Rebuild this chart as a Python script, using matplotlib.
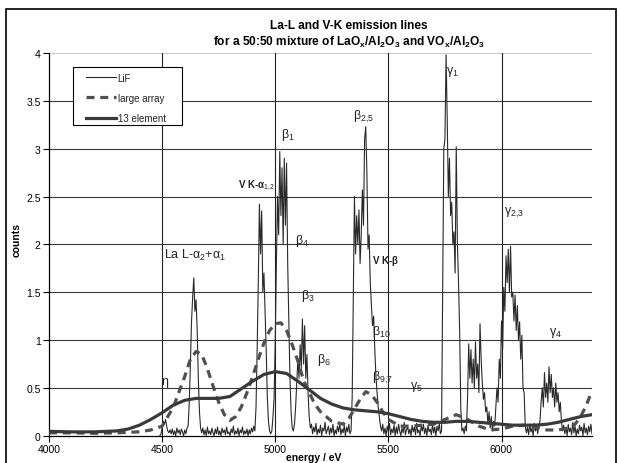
import numpy as np
import matplotlib
matplotlib.use("Agg")
import matplotlib.pyplot as plt
from matplotlib.patches import Rectangle
from matplotlib.ticker import FormatStrFormatter

plt.rcParams['font.family'] = ['Liberation Sans', 'DejaVu Sans']
plt.rcParams['mathtext.fontset'] = 'custom'
plt.rcParams['mathtext.rm'] = 'Liberation Sans'
plt.rcParams['mathtext.it'] = 'Liberation Sans'
plt.rcParams['mathtext.bf'] = 'Liberation Sans:bold'

# ---------------- data ----------------
# LiF spectrum: counts on a 5 eV grid from 4490 to 6400 eV
lif_start, lif_step = 4490, 5
lif_counts = [
    0.00, 0.02, 0.08, 0.15, 0.12, 0.17, 0.10, 0.05, 0.03, 0.06,  # 4490
    0.02, 0.07, 0.01, 0.05, 0.00, 0.08, 0.03, 0.06, 0.01, 0.07,  # 4540
    0.04, 0.00, 0.06, 0.02, 0.08, 0.10, 0.35, 0.75, 1.20, 1.45,  # 4590
    1.65, 1.30, 1.42, 1.10, 0.60, 0.25, 0.08, 0.03, 0.08, 0.01,  # 4640
    0.06, 0.00, 0.09, 0.02, 0.05, 0.01, 0.08, 0.03, 0.00, 0.07,  # 4690
    0.02, 0.09, 0.01, 0.05, 0.00, 0.08, 0.03, 0.06, 0.01, 0.09,  # 4740
    0.02, 0.04, 0.00, 0.07, 0.03, 0.10, 0.01, 0.05, 0.02, 0.08,  # 4790
    0.00, 0.06, 0.03, 0.09, 0.01, 0.05, 0.02, 0.07, 0.00, 0.06,  # 4840
    0.02, 0.08, 0.04, 0.10, 0.05, 0.30, 0.90, 1.60, 2.42, 1.90,  # 4890
    2.35, 1.50, 1.70, 1.30, 0.90, 0.40, 0.15, 0.05, 0.02, 0.05,  # 4940
    0.20, 0.40, 1.00, 1.80, 2.50, 2.10, 2.97, 2.30, 2.80, 2.00,  # 4990
    2.90, 2.20, 2.85, 1.80, 1.20, 0.60, 0.25, 0.08, 0.05, 0.12,  # 5040
    0.30, 0.55, 0.80, 0.60, 0.95, 0.70, 1.22, 0.75, 1.15, 0.60,  # 5090
    0.85, 0.45, 0.20, 0.08, 0.12, 0.02, 0.09, 0.04, 0.13, 0.01,  # 5140
    0.07, 0.03, 0.11, 0.00, 0.08, 0.05, 0.14, 0.02, 0.06, 0.10,  # 5190
    0.01, 0.08, 0.03, 0.12, 0.00, 0.06, 0.02, 0.10, 0.04, 0.13,  # 5240
    0.01, 0.07, 0.03, 0.11, 0.00, 0.09, 0.04, 0.12, 0.02, 0.05,  # 5290
    0.40, 1.50, 2.50, 1.90, 2.30, 2.00, 2.36, 1.80, 2.10, 2.57,  # 5340
    2.20, 3.10, 3.23, 2.75, 1.95, 2.10, 1.60, 1.36, 1.15, 1.25,  # 5390
    0.90, 0.62, 0.45, 0.30, 0.20, 0.10, 0.05, 0.12, 0.02, 0.08,  # 5440
    0.00, 0.10, 0.04, 0.13, 0.01, 0.07, 0.03, 0.11, 0.00, 0.09,  # 5490
    0.02, 0.12, 0.05, 0.00, 0.08, 0.03, 0.14, 0.01, 0.06, 0.10,  # 5540
    0.02, 0.07, 0.00, 0.11, 0.04, 0.09, 0.01, 0.13, 0.03, 0.06,  # 5590
    0.00, 0.10, 0.05, 0.12, 0.02, 0.08, 0.00, 0.11, 0.04, 0.07,  # 5640
    0.01, 0.12, 0.03, 0.09, 0.00, 0.10, 0.05, 0.13, 0.02, 0.05,  # 5690
    1.50, 3.00, 3.10, 3.98, 3.33, 2.50, 2.90, 2.30, 2.44, 2.00,  # 5740
    2.13, 1.70, 3.02, 2.02, 1.60, 1.10, 0.30, 0.05, 0.08, 0.02,  # 5790
    0.10, 0.05, 0.40, 0.96, 0.60, 0.90, 0.55, 0.80, 0.50, 0.98,  # 5840
    0.60, 0.75, 0.45, 1.17, 0.80, 0.56, 0.38, 0.45, 0.25, 0.30,  # 5890
    0.12, 0.25, 0.08, 0.20, 0.05, 0.15, 0.10, 0.30, 0.50, 0.35,  # 5940
    0.80, 0.60, 1.20, 0.90, 1.55, 1.30, 1.88, 1.60, 1.95, 1.50,  # 5990
    1.98, 1.45, 1.50, 1.20, 1.47, 1.10, 1.36, 1.00, 1.19, 0.80,  # 6040
    1.05, 0.50, 0.45, 0.10, 0.03, 0.09, 0.01, 0.12, 0.04, 0.08,  # 6090
    0.00, 0.13, 0.05, 0.10, 0.02, 0.11, 0.15, 0.35, 0.50, 0.30,  # 6140
    0.66, 0.40, 0.55, 0.35, 0.72, 0.45, 0.64, 0.40, 0.50, 0.30,  # 6190
    0.55, 0.35, 0.45, 0.25, 0.35, 0.15, 0.05, 0.11, 0.02, 0.09,  # 6240
    0.00, 0.12, 0.04, 0.08, 0.01, 0.14, 0.03, 0.10, 0.00, 0.07,  # 6290
    0.02, 0.11, 0.05, 0.09, 0.00, 0.13, 0.03, 0.08, 0.01, 0.10,  # 6340
    0.04, 0.12, 0.02,                                            # 6390
]
lif_energy = lif_start + lif_step * np.arange(len(lif_counts))

large_energy = [4000, 4100, 4200, 4300, 4400, 4450, 4500, 4550, 4600, 4625,
                4650, 4675, 4700, 4725, 4750, 4775, 4800, 4825, 4850, 4875,
                4900, 4925, 4950, 4975, 5000, 5025, 5050, 5075, 5100, 5125,
                5150, 5175, 5200, 5250, 5300, 5325, 5350, 5375, 5400, 5425,
                5450, 5475, 5500, 5550, 5600, 5650, 5700, 5750, 5800, 5850,
                5900, 5950, 6000, 6050, 6100, 6150, 6200, 6250, 6300, 6325,
                6350, 6375, 6400]
large_counts = [0.03, 0.03, 0.025, 0.03, 0.04, 0.06, 0.10, 0.30, 0.62, 0.80,
                0.88, 0.85, 0.70, 0.52, 0.35, 0.22, 0.16, 0.20, 0.30, 0.45,
                0.62, 0.80, 0.97, 1.10, 1.17, 1.18, 1.10, 0.95, 0.78, 0.58,
                0.45, 0.33, 0.25, 0.15, 0.12, 0.18, 0.28, 0.38, 0.46, 0.43,
                0.35, 0.25, 0.17, 0.10, 0.10, 0.11, 0.12, 0.17, 0.22, 0.17,
                0.10, 0.06, 0.07, 0.10, 0.11, 0.09, 0.06, 0.06, 0.08, 0.12,
                0.20, 0.32, 0.47]

el13_energy = [4000, 4100, 4200, 4300, 4350, 4400, 4450, 4500, 4550, 4600,
               4650, 4700, 4750, 4800, 4850, 4900, 4950, 5000, 5050, 5100,
               5150, 5200, 5250, 5300, 5350, 5400, 5450, 5500, 5550, 5600,
               5650, 5700, 5750, 5800, 5850, 5900, 5950, 6000, 6050, 6100,
               6150, 6200, 6250, 6300, 6350, 6400]
el13_counts = [0.045, 0.04, 0.04, 0.05, 0.07, 0.11, 0.17, 0.24, 0.32, 0.37,
               0.39, 0.39, 0.39, 0.41, 0.49, 0.57, 0.64, 0.67, 0.65, 0.57,
               0.48, 0.39, 0.33, 0.29, 0.27, 0.26, 0.25, 0.23, 0.20, 0.17,
               0.15, 0.14, 0.14, 0.15, 0.15, 0.14, 0.13, 0.12, 0.11, 0.11,
               0.11, 0.12, 0.14, 0.17, 0.20, 0.22]

series_labels = ['LiF', 'large array', '13 element']

# peak annotations: (text, energy, counts, bold)
annotations = [
    (r'$\eta$', 4496, 0.56, False),
    (r'La L-$\alpha_2$+$\alpha_1$', 4509, 1.89, False),
    (r'V K-$\mathbf{\alpha}_{1{,}2}$', 4996, 2.62, True),
    (r'$\beta_1$', 5025, 3.15, False),
    (r'$\beta_4$', 5088, 2.05, False),
    (r'$\beta_3$', 5115, 1.47, False),
    (r'$\beta_6$', 5186, 0.80, False),
    (r'$\beta_{2{,}5}$', 5345, 3.34, False),
    (r'V K-$\mathbf{\beta}$', 5429, 1.84, True),
    (r'$\beta_{10}$', 5429, 1.09, False),
    (r'$\beta_{9{,}7}$', 5429, 0.61, False),
    (r'$\gamma_5$', 5597, 0.52, False),
    (r'$\gamma_1$', 5755, 3.81, False),
    (r'$\gamma_{2{,}3}$', 6013, 2.34, False),
    (r'$\gamma_4$', 6208, 1.08, False),
]

x_ticks = [4000, 4500, 5000, 5500, 6000]
y_ticks = [0, 0.5, 1, 1.5, 2, 2.5, 3, 3.5, 4]

# ---------------- figure ----------------
W, H = 621, 464
fig = plt.figure(figsize=(W / 100, H / 100), dpi=100)
ax = fig.add_axes([49 / W, 27.3 / H, 543 / W, 382.7 / H])

# grid
for yv in y_ticks[1:-1]:
    ax.axhline(yv, color='#3a3a3a', lw=0.8, zorder=1)
ax.axhline(4, color='#cccccc', lw=0.8, zorder=1)
for xv in x_ticks[1:]:
    ax.axvline(xv, color='#222222', lw=0.8, zorder=1)

ax.plot(lif_energy, lif_counts, color='#2a2a2a', lw=0.8, zorder=3,
        label=series_labels[0])
ax.plot(large_energy, large_counts, color='#505050', lw=2.3,
        linestyle=(0, (2.5, 1.8)), zorder=4, label=series_labels[1])
ax.plot(el13_energy, el13_counts, color='#3a3a3a', lw=2.3, zorder=5,
        label=series_labels[2])

ax.set_xlim(4000, 6400)
ax.set_ylim(0, 4)
ax.set_xticks(x_ticks)
ax.set_yticks(y_ticks)
ax.yaxis.set_major_formatter(FormatStrFormatter('%g'))
ax.tick_params(axis='both', labelsize=7.5, length=4, width=0.8, color='black',
               direction='out', pad=2)
for s in ['top', 'right']:
    ax.spines[s].set_visible(False)
for s in ['left', 'bottom']:
    ax.spines[s].set_color('black')
    ax.spines[s].set_linewidth(0.9)

for txt, ex, cy, bold in annotations:
    is_right = txt.startswith('V K-$\\mathbf{\\alpha')
    ax.text(ex, cy, txt, fontsize=7 if bold else 9,
            fontweight='bold' if bold else 'normal',
            ha='right' if is_right else 'left',
            va='center', zorder=6, color='#222222')

fig.text(314 / W, 6 / H, 'energy / eV', ha='center', va='center',
         fontsize=7.5, fontweight='bold')
fig.text(17 / W, 1 - 240 / H, 'counts', ha='center', va='center',
         rotation=90, fontsize=7.5, fontweight='bold')

# legend: frame drawn separately so its size matches the reference box
fig.add_artist(Rectangle((73 / W, 1 - 126 / H), 109 / W, 58 / H,
                         transform=fig.transFigure, facecolor='white',
                         edgecolor='black', lw=0.8, zorder=9))
leg = fig.legend(*ax.get_legend_handles_labels(), loc='upper left',
                 bbox_to_anchor=(86 / W, 1 - 73.5 / H),
                 fontsize=7, frameon=False, handlelength=3.1,
                 handletextpad=0.15, labelspacing=1.05, borderpad=0,
                 borderaxespad=0)
leg.set_zorder(10)
for t in leg.get_texts():
    t.set_color('#222222')

fig.text(349 / W, 1 - 26 / H, 'La-L and V-K emission lines', ha='center',
         va='center', fontsize=8.6, fontweight='bold')
fig.text(349 / W, 1 - 42 / H,
         r'for a 50:50 mixture of LaO$_\mathbf{x}$/Al$_\mathbf{2}$O$_\mathbf{3}$ and VO$_\mathbf{x}$/Al$_\mathbf{2}$O$_\mathbf{3}$',
         ha='center', va='center', fontsize=8.6, fontweight='bold')

# outer chart border
fig.add_artist(Rectangle((6 / W, -0.05), 610 / W, (H - 10) / H + 0.05,
                         transform=fig.transFigure, fill=False,
                         edgecolor='black', lw=1.2))

fig.savefig('out.png', dpi=100)
